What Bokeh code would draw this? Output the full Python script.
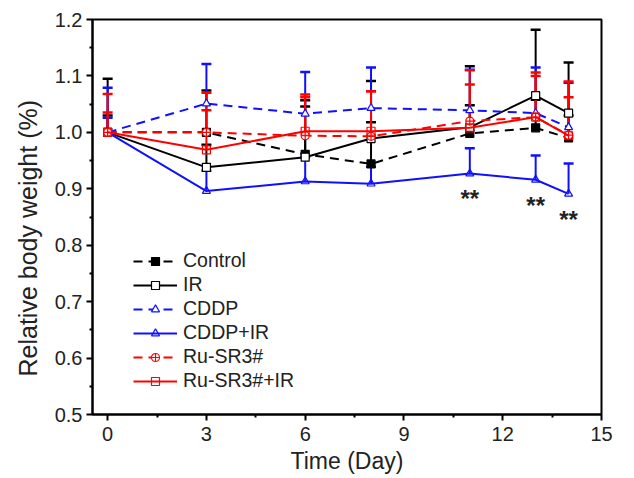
from bokeh.plotting import figure
from bokeh.models import (Range1d, Whisker, TeeHead, ColumnDataSource, Legend, LegendItem,
                          FixedTicker, PrintfTickFormatter, Title)
from bokeh.embed import file_html
from bokeh.resources import INLINE
from bokeh.core.properties import value

days = [0, 3, 6, 8, 11, 13, 14]

control = [1.000, 1.000, 0.961, 0.944, 0.998, 1.008, 0.990]
control_err = [0.095, 0.074, 0.096, 0.074, 0.050, 0.050, 0.040]

ir = [1.000, 0.938, 0.956, 0.989, 1.009, 1.065, 1.034]
ir_err = [0.030, 0.040, 0.090, 0.102, 0.108, 0.117, 0.090]

cddp = [1.000, 1.051, 1.033, 1.043, 1.039, 1.034, 1.009]
cddp_err = [0.079, 0.070, 0.074, 0.072, 0.072, 0.081, 0.079]

cddp_ir = [1.000, 0.896, 0.913, 0.909, 0.927, 0.916, 0.891]
cddp_ir_err = [0.026, 0.036, 0.043, 0.030, 0.045, 0.043, 0.054]

ru = [1.000, 1.000, 0.994, 0.993, 1.020, 1.027, 0.995]
ru_err = [0.035, 0.070, 0.068, 0.080, 0.065, 0.073, 0.067]

ru_ir = [1.000, 0.969, 1.002, 1.002, 1.008, 1.027, 0.994]
ru_ir_err = [0.068, 0.070, 0.065, 0.071, 0.102, 0.079, 0.096]

x_ticks = [0, 3, 6, 9, 12, 15]
x_minor = [1.5, 4.5, 7.5, 10.5, 13.5]
y_ticks = [0.5, 0.6, 0.7, 0.8, 0.9, 1.0, 1.1, 1.2]
y_minor = [0.55, 0.65, 0.75, 0.85, 0.95, 1.05, 1.15]

sig_days = [11, 13, 14]
sig_labels = ["**", "**", "**"]

x_title = "Time (Day)"
y_title = "Relative body weight (%)"

FONT = "Liberation Sans"
TXT = "#222222"

p = figure(width=634, height=478, output_backend="svg", toolbar_location=None,
           x_range=Range1d(-0.46, 15), y_range=Range1d(0.5, 1.2),
           min_border_left=92, min_border_right=33, min_border_top=19, min_border_bottom=64)
p.background_fill_color = "white"
p.border_fill_color = "white"
p.grid.visible = False
p.outline_line_color = "black"
p.outline_line_width = 2

p.xaxis.ticker = FixedTicker(ticks=x_ticks, minor_ticks=x_minor)
p.yaxis.ticker = FixedTicker(ticks=y_ticks, minor_ticks=y_minor)
p.yaxis.formatter = PrintfTickFormatter(format="%.1f")

for ax in (p.xaxis, p.yaxis):
    ax.axis_line_width = 2
    ax.major_tick_line_width = 2
    ax.minor_tick_line_width = 2
    ax.major_tick_out = 6
    ax.major_tick_in = 0
    ax.minor_tick_out = 3
    ax.minor_tick_in = 0
    ax.major_label_text_font = FONT
    ax.major_label_text_font_size = "20px"
    ax.major_label_text_color = TXT
    ax.axis_label_text_font = FONT
    ax.axis_label_text_font_size = "23px"
    ax.axis_label_text_font_style = "normal"
    ax.axis_label_text_color = TXT

p.xaxis.axis_label = x_title
p.xaxis.major_label_standoff = 6
p.xaxis.axis_label_standoff = 4
p.yaxis.major_label_standoff = 4

# y title as a left-side title, anchored from the bottom of the frame like the reference
p.add_layout(Title(text=y_title, align="left", offset=38, vertical_align="bottom",
                   standoff=20, text_font=FONT, text_font_size="25px",
                   text_font_style="normal", text_color=TXT), "left")

series = [
    ("Control", control, control_err, "black", "9 6", "square", "black"),
    ("IR", ir, ir_err, "black", "solid", "square", "white"),
    ("CDDP", cddp, cddp_err, "#1010ff", "9 6", "triangle", "white"),
    ("CDDP+IR", cddp_ir, cddp_ir_err, "#1010ff", "solid", "triangle", None),
    ("Ru-SR3#", ru, ru_err, "#ff0000", "9 6", "circle_cross", "white"),
    ("Ru-SR3#+IR", ru_ir, ru_ir_err, "#ff0000", "solid", "square", None),
]

for name, ys, errs, color, dash, marker, fill in series:
    src = ColumnDataSource(dict(x=days, lo=ys, hi=[y + e for y, e in zip(ys, errs)]))
    w = Whisker(source=src, base="x", lower="lo", upper="hi", dimension="height",
                line_color=color, line_width=2,
                upper_head=TeeHead(size=10, line_color=color, line_width=2.5),
                lower_head=None)
    p.add_layout(w)

items = []
for name, ys, errs, color, dash, marker, fill in series:
    src = ColumnDataSource(dict(x=days, y=ys))
    l = p.line("x", "y", source=src, line_color=color, line_width=2, line_dash=dash)
    s = p.scatter("x", "y", source=src, marker=marker, size=8, line_color=color,
                  line_width=1.2, fill_color=fill if fill else None,
                  fill_alpha=1.0 if fill else 0.0)
    items.append(LegendItem(label=name, renderers=[l, s]))

sig_y = [cddp_ir[days.index(d)] - 0.045 for d in sig_days]
p.text(x=sig_days, y=sig_y, text=sig_labels, text_align="center", text_baseline="middle",
       text_font=value(FONT), text_font_size="24px", text_font_style="bold", text_color=TXT)

legend = Legend(items=items, location=(41, 22), glyph_width=44, glyph_height=20,
                label_height=20, spacing=1, label_standoff=6, padding=0, margin=0,
                background_fill_alpha=0, border_line_alpha=0,
                label_text_font=FONT, label_text_font_size="19.5px", label_text_color=TXT)
p.add_layout(legend)

open("out.html", "w").write(file_html(p, INLINE))
